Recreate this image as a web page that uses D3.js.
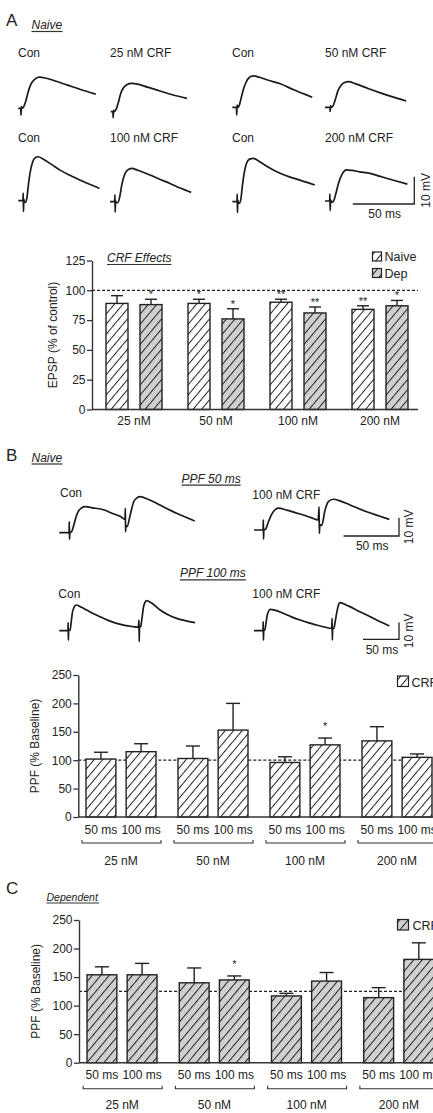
<!DOCTYPE html>
<html>
<head>
<meta charset="utf-8">
<script src="https://cdn.jsdelivr.net/npm/d3@7"></script>
<style>
  body { margin: 0; background: #fff; }
  svg { display: block; font-family: "Liberation Sans", Arial, Helvetica, sans-serif; }
</style>
</head>
<body>
<svg id="fig" width="433" height="1113"></svg>
<script>
// ---------------------------------------------------------------- data
var doses = ["25 nM", "50 nM", "100 nM", "200 nM"];

// A: EPSP, % of control
var epspNaive = [89, 89, 90, 84];
var epspNaiveSem = [6.5, 3.5, 2.5, 3];
var epspNaiveSig = ["", "*", "**", "**"];
var epspDep = [88, 76, 81, 87];
var epspDepSem = [4.5, 8.5, 5, 4.5];
var epspDepSig = ["*", "*", "**", "*"];
var epspTicks = [0, 25, 50, 75, 100, 125];

// B / C: PPF, % baseline
var intervals = ["50 ms", "100 ms"];
var ppfTicks = [0, 50, 100, 150, 200, 250];
var ppfNaive50 = [102, 103, 96, 134];
var ppfNaive50Sem = [12, 22, 10, 25];
var ppfNaive50Sig = ["", "", "", ""];
var ppfNaive100 = [115, 153, 127, 105];
var ppfNaive100Sem = [14, 47, 12, 6];
var ppfNaive100Sig = ["", "", "*", ""];
var ppfDep50 = [154, 140, 117, 114];
var ppfDep50Sem = [14, 26, 4.5, 17.5];
var ppfDep50Sig = ["", "", "", ""];
var ppfDep100 = [154, 145, 143, 181];
var ppfDep100Sem = [20, 7, 15, 29];
var ppfDep100Sig = ["", "*", "", ""];

// traces: [ms, mV]
var trCon25 = [[0,0],[2,0],[2.2,-2.5],[2.5,0.6],[3,0],[4,0.3],[6,2.5],[8,6],[10,8.6],[13,10.5],
  [17,11.4],[22,11.1],[30,10],[40,8.5],[50,7],[63,5.2]];
var trCrf25 = [[0,0],[1.8,0],[2,-2.2],[2.3,0.5],[2.8,0],[4,0.5],[6,3],[8,6.5],[10,8.5],[13,9.9],
  [17,10.4],[22,10.1],[30,9],[40,7.6],[50,6.2],[62,4.9]];
var trCon50 = [[0,0],[3.4,0],[3.6,-2.8],[3.9,0.8],[4.4,0],[5.5,0.5],[7,3],[9,6.5],[11,9],[14,11],
  [17,11.5],[22,11],[30,9.8],[39,8.6],[50,6.4],[65,3.7]];
var trCrf50 = [[0,0],[4,0],[4.2,-1.5],[4.5,0.5],[5,0],[6.5,0.5],[8.5,3],[10.5,6],[13,8],[16,9.1],
  [19,9.4],[25,8.6],[35,6.9],[45,5.3],[55,3.8],[66,2.3]];
var trCon100 = [[0,0],[3.8,0],[4,2.8],[4.2,-4],[4.5,0.5],[5,-0.5],[6,-0.6],[7,1],[8,5],[9.5,10],
  [11.5,14],[14,15.8],[16.3,16.1],[20,15.3],[27,13.3],[34,11.2],[42,9.3],[50,7.6],[58,6],[66,4.5]];
var trCrf100 = [[0,0],[3.8,0],[4,2.5],[4.2,-3.8],[4.5,0.4],[5,-0.4],[6.5,-0.3],[8,2],[9.5,6],[11.5,9.5],
  [14,11.5],[17.6,12.2],[22,11.6],[27,10.8],[32.5,9.8],[40,8.3],[48.8,6.7],[57,5],[66,3.4]];
var trCon200 = [[0,0],[3.8,0],[4,2.8],[4.2,-4],[4.5,0.5],[5,-0.5],[6,-0.5],[7,1],[8,5],[9.5,10],
  [11.5,14],[14,15.6],[17,15.9],[21,15],[28,13],[38.8,10.4],[47,9],[55,7.9],[67,6.1]];
var trCrf200 = [[0,0],[3.8,0],[4,2.5],[4.2,-3.5],[4.5,0.4],[5.5,-0.5],[7,0],[9,3],[11,6.5],[13.5,9.5],
  [17.6,11.4],[22,11.2],[28,10.7],[36.6,10.1],[45,9],[55,7.7],[67,6.2]];

var trPpf50Con = [[0,0],[8,0],[8.8,-0.3],[9,6],[9.2,-3.6],[9.5,0],[11,0.5],[13,4],[15,8.5],[17,11.5],
  [20,13.5],[23.2,14.2],[30,13.6],[40.5,12.4],[48,10.5],[55.5,8.7],[59.2,7.3],[59.5,13.3],[59.7,0.5],
  [60,4],[61,3.3],[64,10],[67,16.9],[70,19],[72.7,19.7],[80,18.3],[90.7,15.1],[105.7,10.6],[122,6.4]];
var trPpf50Crf = [[0,0],[8.2,0],[8.4,5.5],[8.6,-5],[8.9,0],[10.5,0.5],[13,4.5],[16,8.7],[18.5,10.8],
  [21.9,11.9],[29.4,10.9],[37,9.5],[44.4,8.2],[52,6.6],[57.9,5.5],[58.6,12.7],[58.9,-1.8],[59.3,3],
  [61,2.5],[64,10.9],[67,15.5],[71.4,16.8],[78,15.8],[86.5,13.7],[101.5,10],[112,7.8],[121.9,5.8]];
var trPpf100Con = [[0,0],[12,0],[12.3,4.8],[12.6,-5.6],[13,0],[15,0.5],[16.5,5],[18,10.4],[20.5,14],
  [23.2,15.4],[30,14.2],[38,12.4],[47,10.3],[56.5,8.4],[68,6.2],[79.7,4.4],[91,3.2],[102.8,2.4],
  [109.7,2],[110.7,6.4],[111,-6.6],[111.4,2],[113,2.5],[115,8],[117,14.4],[119,17],[121.4,18],
  [130,16],[140,12.4],[151,9.6],[163,7.4],[175,6],[188.5,4.8]];
var trPpf100Crf = [[0,0],[12.5,0],[12.8,5.4],[13.1,-5.6],[13.5,0],[15,0.3],[16.5,4],[18,8.5],[20,11.5],
  [22.2,12.8],[30,12.2],[40.7,10.4],[52,8.3],[63.9,6.4],[75,4.8],[87,3.4],[98,2.2],[108,1.4],
  [108.5,7.4],[108.8,-5.6],[109.2,1],[111,1.5],[113,6],[115,11],[117,15],[119.4,16.8],[130,15],
  [147,11.4],[165.7,7.4],[177,5],[188,2.8]];

// ---------------------------------------------------------------- setup
var svg = d3.select("#fig");
var ink = "#222";
var defs = svg.append("defs");

function hatch(id, bg) {
  var p = defs.append("pattern")
    .attr("id", id)
    .attr("patternUnits", "userSpaceOnUse")
    .attr("width", 6.5).attr("height", 6.5)
    .attr("patternTransform", "rotate(40)");
  p.append("rect").attr("width", 6.5).attr("height", 6.5).attr("fill", bg);
  p.append("line")
    .attr("x1", 0.5).attr("x2", 0.5).attr("y1", 0).attr("y2", 6.5)
    .attr("stroke", ink).attr("stroke-width", 1);
}
hatch("hatchW", "#fff");
hatch("hatchG", "#d0d0d0");

function label(x, y, str, size, opts) {
  opts = opts || {};
  var t = svg.append("text")
    .attr("x", x).attr("y", y)
    .attr("font-size", size)
    .attr("fill", ink)
    .attr("text-anchor", opts.anchor || "start")
    .attr("font-style", opts.italic ? "italic" : null)
    .text(str);
  if (opts.rotate) {
    t.attr("transform", "rotate(-90," + x + "," + y + ")");
  }
  if (opts.underline) {
    var b = t.node().getBBox();
    svg.append("line")
      .attr("x1", b.x).attr("x2", b.x + b.width)
      .attr("y1", y + 2.5).attr("y2", y + 2.5)
      .attr("stroke", "#333").attr("stroke-width", 1.2);
  }
  return t;
}

// one recording, placed with its start at (x0, base)
function trace(data, x0, base, kx, ky) {
  var x = d3.scaleLinear().domain([0, 1]).range([x0, x0 + kx]);
  var y = d3.scaleLinear().domain([0, 1]).range([base, base - ky]);
  svg.append("path")
    .datum(data)
    .attr("fill", "none")
    .attr("stroke", "#1a1a1a")
    .attr("stroke-width", 1.7)
    .attr("stroke-linejoin", "round")
    .attr("d", d3.line()
      .x(function (d) { return x(d[0]); })
      .y(function (d) { return y(d[1]); })
      .curve(d3.curveMonotoneX));
}

// 50 ms / 10 mV scale bar, corner at (cx, cy)
function scaleBar(cx, cy, kx, ky, mvX) {
  var w = 50 * kx, h = 10 * ky;
  svg.append("path")
    .attr("d", "M" + (cx - w) + "," + cy + "H" + cx + "V" + (cy - h))
    .attr("fill", "none").attr("stroke", ink).attr("stroke-width", 1.3);
  label(cx - w / 2 + 1, cy + 14.3, "50 ms", 12, { anchor: "middle" });
  label(mvX, cy - h / 2, "10 mV", 12, { anchor: "middle", rotate: true });
}

function barChart(o) {
  var y = d3.scaleLinear().domain([0, o.yMax]).range([o.bottom, o.top]);
  var x0 = d3.scaleBand().domain(doses).range(o.groups);
  var x1 = d3.scaleBand()
    .domain(o.series.map(function (s) { return s.key; }))
    .range(o.inner)
    .paddingInner(o.pad);
  var bw = x1.bandwidth();
  var g = svg.append("g");

  // reference level
  g.append("line")
    .attr("x1", o.left).attr("x2", o.right)
    .attr("y1", y(o.ref)).attr("y2", y(o.ref))
    .attr("stroke", ink).attr("stroke-width", 1.2)
    .attr("stroke-dasharray", "3,2");

  o.series.forEach(function (s) {
    var bar = g.append("g").selectAll("g")
      .data(doses)
      .join("g")
      .attr("transform", function (d) { return "translate(" + (x0(d) + x1(s.key)) + ",0)"; });
    bar.append("line")
      .attr("x1", bw / 2).attr("x2", bw / 2)
      .attr("y1", function (d, i) { return y(s.values[i]); })
      .attr("y2", function (d, i) { return y(s.values[i] + s.sem[i]); })
      .attr("stroke", ink).attr("stroke-width", 1.4);
    bar.append("line")
      .attr("x1", bw / 2 - o.cap / 2).attr("x2", bw / 2 + o.cap / 2)
      .attr("y1", function (d, i) { return y(s.values[i] + s.sem[i]); })
      .attr("y2", function (d, i) { return y(s.values[i] + s.sem[i]); })
      .attr("stroke", ink).attr("stroke-width", 1.4);
    bar.append("rect")
      .attr("width", bw)
      .attr("y", function (d, i) { return y(s.values[i]); })
      .attr("height", function (d, i) { return y(0) - y(s.values[i]); })
      .attr("fill", s.fill)
      .attr("stroke", ink).attr("stroke-width", 1.4);
    bar.append("text")
      .attr("x", bw / 2)
      .attr("y", function (d, i) { return y(s.values[i] + s.sem[i]) - o.starGap; })
      .attr("text-anchor", "middle")
      .attr("font-size", 11)
      .attr("fill", ink)
      .text(function (d, i) { return s.sig[i]; });
    if (o.subLabels) {
      bar.append("text")
        .attr("x", bw / 2)
        .attr("y", y(0) + 16.6)
        .attr("text-anchor", "middle")
        .attr("font-size", 12)
        .attr("fill", ink)
        .text(s.key);
    }
  });

  if (o.subLabels) {
    // brackets under each dose
    g.append("g").selectAll("path")
      .data(doses)
      .join("path")
      .attr("d", function (d) {
        var c = x0(d) + x0.bandwidth() / 2, by = y(0) + 26;
        return "M" + (c - 39) + "," + (by - 3) + "V" + by + "H" + (c + 40) + "V" + (by - 3);
      })
      .attr("fill", "none").attr("stroke", "#333").attr("stroke-width", 1.1);
  }

  // group labels
  var xa = g.append("g")
    .attr("transform", "translate(0," + y(0) + ")")
    .call(d3.axisBottom(x0).tickSize(0).tickPadding(o.groupPad));
  xa.select(".domain").remove();
  xa.attr("font-family", null);
  xa.selectAll("text").attr("font-size", 12).attr("fill", ink);

  // x baseline
  g.append("line")
    .attr("x1", o.left).attr("x2", o.right)
    .attr("y1", y(0)).attr("y2", y(0))
    .attr("stroke", "#333").attr("stroke-width", 1.4);

  // y axis
  var ya = g.append("g")
    .attr("transform", "translate(" + o.left + ",0)")
    .call(d3.axisLeft(y).tickValues(o.ticks).tickSize(5).tickPadding(1.5).tickSizeOuter(0));
  ya.attr("font-family", null);
  ya.selectAll("text").attr("font-size", 12).attr("fill", ink);
  ya.selectAll("line").attr("stroke", "#333").attr("stroke-width", 1.3);
  ya.select(".domain").attr("stroke", "#333").attr("stroke-width", 1.4);

  label(o.labelX, (o.top + o.bottom) / 2, o.yLabel, 12, { anchor: "middle", rotate: true });
}

function legendItem(x, y, w, h, fill, str, tx) {
  svg.append("rect")
    .attr("x", x).attr("y", y).attr("width", w).attr("height", h)
    .attr("fill", fill).attr("stroke", ink).attr("stroke-width", 1.2);
  label(tx, y + h, str, 12.5);
}

// ---------------------------------------------------------------- panel A
label(6, 26, "A", 17);
label(31.5, 29, "Naive", 12, { italic: true, underline: true });

label(18, 56.7, "Con", 12);
label(110, 56.7, "25 nM CRF", 12);
label(232, 56.7, "Con", 12);
label(325, 56.7, "50 nM CRF", 12);
label(18, 141.7, "Con", 12);
label(110, 141.7, "100 nM CRF", 12);
label(232, 141.7, "Con", 12);
label(325, 141.7, "200 nM CRF", 12);

trace(trCon25, 18.3, 108.3, 1.23, 2.73);
trace(trCrf25, 110.7, 111.7, 1.23, 2.73);
trace(trCon50, 232.3, 107.3, 1.23, 2.73);
trace(trCrf50, 325, 107.3, 1.23, 2.73);
trace(trCon100, 18.3, 200.7, 1.23, 2.73);
trace(trCrf100, 110, 201.7, 1.23, 2.73);
trace(trCon200, 232.3, 201.7, 1.23, 2.73);
trace(trCrf200, 325, 201, 1.23, 2.73);
scaleBar(414.3, 204, 1.23, 2.73, 430);

barChart({
  series: [
    { key: "Naive", values: epspNaive, sem: epspNaiveSem, sig: epspNaiveSig, fill: "url(#hatchW)" },
    { key: "Dep", values: epspDep, sem: epspDepSem, sig: epspDepSig, fill: "url(#hatchG)" }
  ],
  yMax: 125, ticks: epspTicks, ref: 100,
  top: 260.5, bottom: 409.5, left: 92, right: 418,
  groups: [93, 421], inner: [13, 69], pad: 0.353,
  cap: 12, starGap: 1, groupPad: 6.5,
  subLabels: false,
  yLabel: "EPSP (% of control)", labelX: 57
});
label(107, 262, "CRF Effects", 12, { italic: true, underline: true });
legendItem(372.5, 252, 9, 9, "url(#hatchW)", "Naive", 384.5);
legendItem(372.5, 268.5, 9, 9, "url(#hatchG)", "Dep", 384.5);

// ---------------------------------------------------------------- panel B
label(6, 460.7, "B", 17);
label(31.5, 461.5, "Naive", 12, { italic: true, underline: true });

label(181.5, 482.7, "PPF 50 ms", 12, { italic: true, underline: true });
label(60, 496.7, "Con", 12);
label(252.3, 499.3, "100 nM CRF", 12);
trace(trPpf50Con, 59.3, 532.7, 1.11, 1.83);
trace(trPpf50Crf, 254, 530, 1.11, 1.83);
scaleBar(399, 536, 1.11, 1.83, 413.5);

label(180, 577.3, "PPF 100 ms", 12, { italic: true, underline: true });
label(58.3, 598.3, "Con", 12);
label(252.3, 598.3, "100 nM CRF", 12);
trace(trPpf100Con, 59.3, 630.7, 0.72, 1.67);
trace(trPpf100Crf, 254, 630.7, 0.72, 1.67);
scaleBar(399, 639.3, 0.72, 1.67, 413.5);

barChart({
  series: [
    { key: intervals[0], values: ppfNaive50, sem: ppfNaive50Sem, sig: ppfNaive50Sig, fill: "url(#hatchW)" },
    { key: intervals[1], values: ppfNaive100, sem: ppfNaive100Sem, sig: ppfNaive100Sig, fill: "url(#hatchW)" }
  ],
  yMax: 250, ticks: ppfTicks, ref: 100,
  top: 675, bottom: 817, left: 78.3, right: 440,
  groups: [75, 443], inner: [11, 81], pad: 0.256,
  cap: 14, starGap: 8, groupPad: 39.5,
  subLabels: true,
  yLabel: "PPF (% Baseline)", labelX: 39
});
legendItem(397.5, 676, 11, 10.5, "url(#hatchW)", "CRF", 411.5);

// ---------------------------------------------------------------- panel C
label(6, 894, "C", 17);
label(46.5, 900.5, "Dependent", 10.5, { italic: true, underline: true });

barChart({
  series: [
    { key: intervals[0], values: ppfDep50, sem: ppfDep50Sem, sig: ppfDep50Sig, fill: "url(#hatchG)" },
    { key: intervals[1], values: ppfDep100, sem: ppfDep100Sem, sig: ppfDep100Sig, fill: "url(#hatchG)" }
  ],
  yMax: 250, ticks: ppfTicks, ref: 125,
  top: 920, bottom: 1062.7, left: 79, right: 440,
  groups: [76, 445], inner: [11, 81], pad: 0.256,
  cap: 14, starGap: 8, groupPad: 38,
  subLabels: true,
  yLabel: "PPF (% Baseline)", labelX: 40
});
legendItem(397.5, 919.5, 11, 10.5, "url(#hatchG)", "CRF", 412.5);
</script>
</body>
</html>
